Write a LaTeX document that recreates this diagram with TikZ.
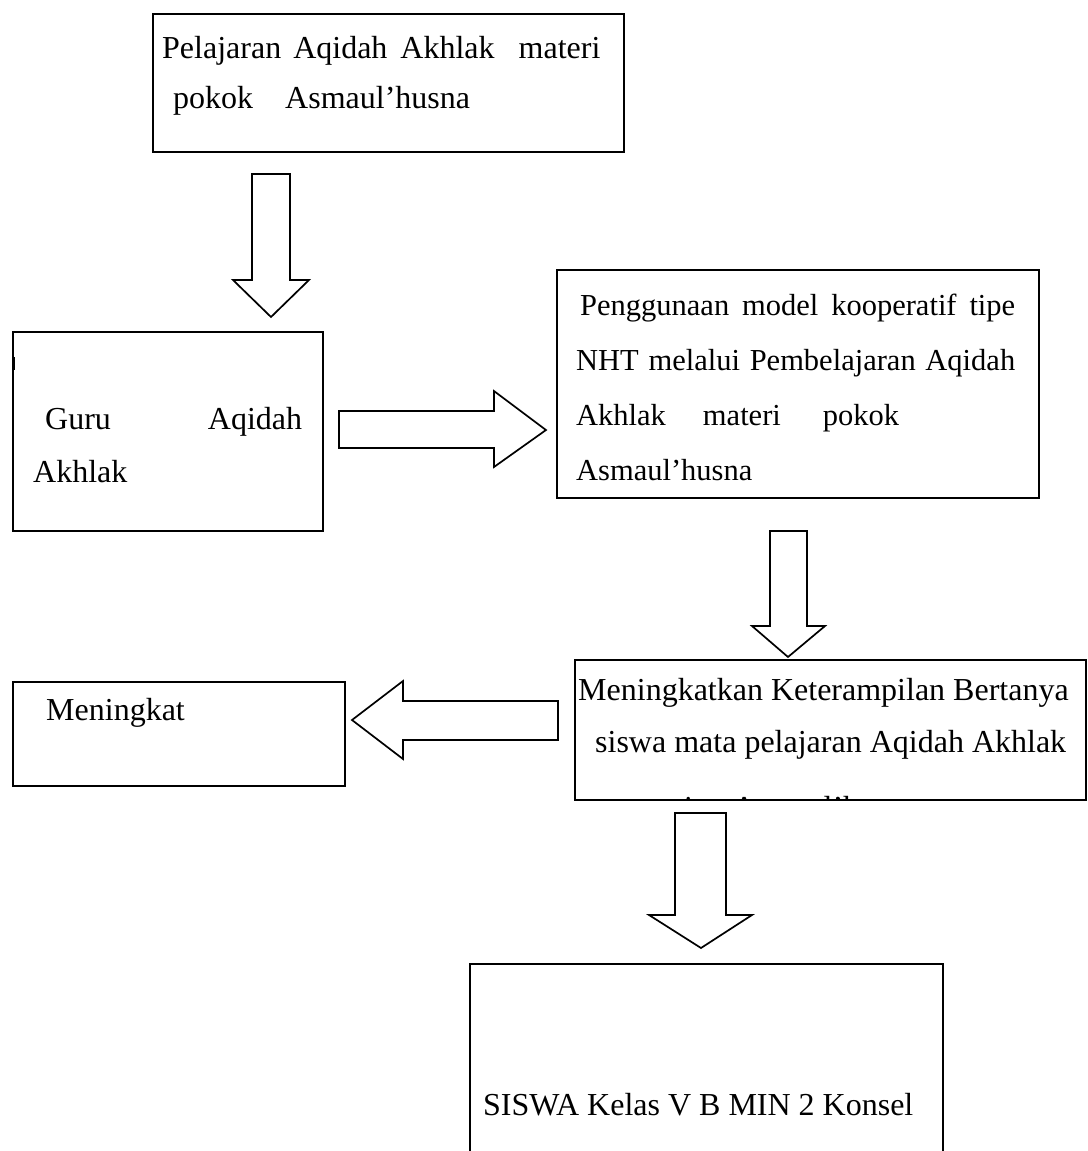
\documentclass[tikz,border=0pt]{standalone}
\usepackage{fontspec}
\setmainfont{Liberation Serif}
\begin{document}
\begin{tikzpicture}[x=1pt,y=-1pt,
  box/.style={draw=black,line width=1.8pt,fill=none,inner sep=0pt,anchor=north west},
  barrow/.style={draw=black,line width=1.7pt,fill=white,line join=miter},
  txt/.style={inner sep=0pt,anchor=base west,font=\fontsize{32}{38}\selectfont},
  stxt/.style={inner sep=0pt,anchor=base west,font=\fontsize{30.5}{36}\selectfont},
  tick/.style={line width=2.6pt}]
\useasboundingbox (0,0) rectangle (1087,1151);
\clip (0,0) rectangle (1087,1151);
\fill[white] (0,0) rectangle (1087,1151);

% clipped third line of the Meningkatkan box (drawn before the border)
\begin{scope}
  \clip (575,660) rectangle (1084,798.5);
  \node[txt] (k3) at (611,818) {materi\hspace{40pt}Asmaul’husna};
\end{scope}

% boxes
\node[box,minimum width=471pt,minimum height=138pt] (top) at (152,13) {};
\node[box,minimum width=310pt,minimum height=199pt] (guru) at (12,331) {};
\node[box,minimum width=482pt,minimum height=228pt] (nht) at (556,269) {};
\node[box,minimum width=332pt,minimum height=104pt] (mein) at (12,681) {};
\node[box,minimum width=511pt,minimum height=140pt] (ket) at (574,659) {};
\node[box,minimum width=473pt,minimum height=230pt] (siswa) at (469,963) {};

% small marks on left borders
\draw[tick] (guru.north west) ++(1.5,26) -- ++(0,13);
\draw[tick] (siswa.north west) ++(1,28) -- ++(0,8);

% texts
\node[txt] (t1) at (162,58) {Pelajaran\hspace{12pt}Aqidah\hspace{13pt}Akhlak\hspace{24pt}materi};
\node[txt] (t2) at (173,108) {pokok\hspace{32pt}Asmaul’husna};

\node[txt] (g1) at (45,429) {Guru\hspace{97pt}Aqidah};
\node[txt] (g2) at (33,482) {Akhlak};

\node[stxt] (n1) at (580,315) {\makebox[435pt][s]{Penggunaan model kooperatif tipe}};
\node[stxt] (n2) at (576,370) {\makebox[439pt][s]{NHT melalui Pembelajaran Aqidah}};
\node[stxt] (n3) at (576,425) {Akhlak\hspace{37pt}materi\hspace{42pt}pokok};
\node[stxt] (n4) at (576,480) {Asmaul’husna};

\node[txt] (m1) at (46,720) {Meningkat};

\node[txt] (k1) at (578,700) {Meningkatkan Keterampilan Bertanya};
\node[txt] (k2) at (595,752) {siswa mata pelajaran Aqidah Akhlak};

\node[txt] (s1) at (483,1115) {SISWA Kelas V B MIN 2 Konsel};

% block arrows
\draw[barrow] (252,174) -- (290,174) -- (290,280) -- (309,280) -- (271,317)
  -- (233,280) -- (252,280) -- cycle;
\draw[barrow] (339,411) -- (494,411) -- (494,391) -- (546,430) -- (494,467)
  -- (494,448) -- (339,448) -- cycle;
\draw[barrow] (770,531) -- (807,531) -- (807,626) -- (825,626) -- (788,657)
  -- (752,626) -- (770,626) -- cycle;
\draw[barrow] (558,701) -- (403,701) -- (403,681) -- (352,720) -- (403,759)
  -- (403,740) -- (558,740) -- cycle;
\draw[barrow] (675,813) -- (726,813) -- (726,915) -- (752,915) -- (701,948)
  -- (649,915) -- (675,915) -- cycle;
\end{tikzpicture}
\end{document}
